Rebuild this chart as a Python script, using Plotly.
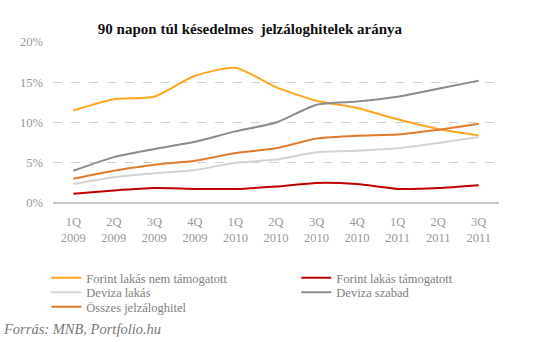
import plotly.graph_objects as go

categories = ["1Q<br>2009", "2Q<br>2009", "3Q<br>2009", "4Q<br>2009", "1Q<br>2010", "2Q<br>2010",
              "3Q<br>2010", "4Q<br>2010", "1Q<br>2011", "2Q<br>2011", "3Q<br>2011"]

forint_nem_tam = [11.5, 12.9, 13.2, 15.8, 16.8, 14.4, 12.7, 11.8, 10.4, 9.2, 8.4]
forint_tam = [1.15, 1.55, 1.85, 1.75, 1.75, 2.05, 2.5, 2.35, 1.75, 1.85, 2.2]
deviza_lakas = [2.35, 3.2, 3.7, 4.1, 5.0, 5.4, 6.3, 6.5, 6.8, 7.45, 8.2]
deviza_szabad = [4.0, 5.7, 6.7, 7.6, 8.9, 10.0, 12.2, 12.6, 13.2, 14.2, 15.2]
osszes = [3.0, 4.0, 4.75, 5.25, 6.2, 6.8, 8.0, 8.35, 8.5, 9.1, 9.85]

series = [
    ("Forint lakás nem támogatott", forint_nem_tam, "#FFA51F", "legend"),
    ("Forint lakás támogatott", forint_tam, "#C00000", "legend"),
    ("Deviza lakás", deviza_lakas, "#D3D3D3", "legend2"),
    ("Deviza szabad", deviza_szabad, "#8C8C8C", "legend2"),
    ("Összes jelzáloghitel", osszes, "#E07B2E", "legend3"),
]

FONT = "Georgia, 'Liberation Serif', serif"
W, H = 553, 342
L, R, T, B = 53, 54, 42, 139
PW, PH = W - L - R, H - T - B

fig = go.Figure()
for name, vals, color, lg in series:
    fig.add_trace(go.Scatter(x=categories, y=vals, name=name, mode="lines", legend=lg,
                             line=dict(color=color, width=2, shape="spline", smoothing=0.6)))


def legend_row(yc):
    return dict(orientation="h", x=-0.015, xanchor="left", y=(H - B - yc) / PH, yanchor="middle",
                entrywidth=205, entrywidthmode="pixels", tracegroupgap=0, bgcolor="rgba(0,0,0,0)",
                font=dict(family=FONT, size=12.5, color="#808080"), itemwidth=30)


fig.update_layout(
    width=W, height=H,
    margin=dict(l=L, r=R, t=T, b=B),
    paper_bgcolor="white", plot_bgcolor="white",
    font=dict(family=FONT, color="#999999", size=12),
    title=dict(text="<b>90 napon túl késedelmes  jelzáloghitelek aránya</b>",
               x=0.452, xref="container", xanchor="center", y=0.93, yref="container",
               font=dict(family=FONT, size=15, color="#111111")),
    xaxis=dict(showgrid=False, showline=False, ticks="", tickfont=dict(size=12.5, color="#999999"),
               range=[-0.5, 10.5], ticklabelstandoff=9),
    yaxis=dict(range=[0, 20], dtick=5, ticksuffix="%", showgrid=True, gridcolor="#D0D0D0",
               griddash="dash", gridwidth=1, zeroline=True, zerolinecolor="#C8C8C8", zerolinewidth=1.5,
               tickfont=dict(size=12.5, color="#999999"), showline=False, ticklabelstandoff=9),
    legend=legend_row(278),
    legend2=legend_row(292.5),
    legend3=legend_row(307),
    showlegend=True,
)

fig.add_annotation(text="<i>Forrás: MNB, Portfolio.hu</i>", xref="paper", yref="paper",
                   x=(1 - L) / PW, y=(H - B - 329) / PH, xanchor="left", yanchor="middle",
                   showarrow=False, font=dict(family=FONT, size=14.5, color="#777777"))

fig.write_html("out.html")
